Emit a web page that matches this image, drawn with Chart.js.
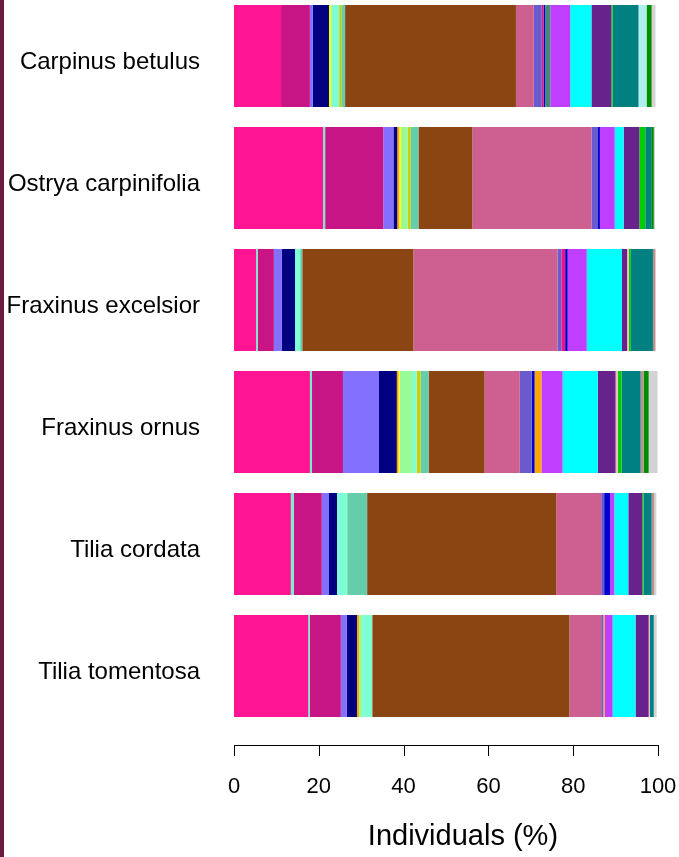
<!DOCTYPE html>
<html>
<head>
<meta charset="utf-8">
<script src="https://cdn.jsdelivr.net/npm/chart.js@4"></script>
<style>
body{margin:0;background:#fff;overflow:hidden;}
#wrap{position:relative;width:679px;height:857px;}
#stripe{position:absolute;left:0;top:0;width:4px;height:857px;background:#6b1a42;}
#box{position:absolute;left:0;top:-5px;width:679px;height:862px;}
</style>
</head>
<body>
<div id="wrap">
<div id="box"><canvas id="chart"></canvas></div>
<div id="stripe"></div>
</div>
<script>

const species = ["Carpinus betulus","Ostrya carpinifolia","Fraxinus excelsior","Fraxinus ornus","Tilia cordata","Tilia tomentosa"];

// one colour per taxon, stacked left to right in this order
const taxonColours = [
 "#FF1493","#76EEC6","#C71585","#8470FF","#000080","#FFA500","#FFFF00","#98FB98",
 "#7FFFD4","#CDCD00","#66CDAA","#8B4513","#CD6090","#6A5ACD","#EE1289","#0000CD",
 "#458B74","#FFA500","#BF3EFF","#00FFFF","#68228B","#FFB6C1","#00CD00","#008080",
 "#AFEEEE","#BC8F8F","#008B00","#D3D3D3"
];
const taxa = taxonColours.map((c,i) => "Taxon " + (i+1));

// share of individuals (%) per taxon
const carpinusBetulus    = [11.1,0,6.8,0.7,3.8,0,0.5,0,1.9,0.5,0.9,40.3,4.2,1.9,0.4,0.4,1.2,0,4.7,5.0,4.7,0,0.3,6.1,1.9,0,1.2,0.9];
const ostryaCarpinifolia = [21.0,0.5,13.7,2.4,0.9,0.5,0.4,1.6,0,0.6,1.9,12.7,28.1,1.4,0,0.6,0,0,3.5,2.1,3.7,0,1.4,1.4,0,0,0.6,0.3];
const fraxinusExcelsior  = [5.2,0.4,3.8,1.9,3.1,0,0,0,1.2,0,0.5,26.2,34.0,0.9,0.9,0.6,0,0,4.5,8.3,1.2,0.4,0.5,5.2,0,0.6,0,0];
const fraxinusOrnus      = [17.9,0.5,7.3,8.5,4.2,0.4,0.3,3.1,0.9,0.9,1.9,13.2,8.3,2.8,0,0.7,0,1.6,5.0,8.3,4.2,0.5,0.9,4.5,0,0.7,1.2,2.1];
const tiliaCordata       = [13.4,0.7,6.6,1.7,1.9,0,0,0,2.4,0,4.7,44.6,10.6,0.7,0,1.4,0,0,1.0,3.3,3.3,0,0.3,1.9,0,0.6,0,0.5];
const tiliaTomentosa     = [17.5,0.4,7.3,1.4,2.4,0.5,0,0.7,2.4,0,0,46.5,7.5,0.5,0,0,0,0.3,1.9,5.4,3.1,0.3,0,0.9,0,0,0,0.7];

const xTicks = [0,20,40,60,80,100];
const xTitle = "Individuals (%)";

const rows = [carpinusBetulus,ostryaCarpinifolia,fraxinusExcelsior,fraxinusOrnus,tiliaCordata,tiliaTomentosa];

const datasets = taxa.map((name,i) => ({
    label:name,
    data:rows.map(r => r[i]),
    backgroundColor:taxonColours[i],
    borderWidth:0,
    barPercentage:0.836,
    categoryPercentage:1
}));

// R style bottom axis: a line from 0 to 100 with ticks below, and the title
const rAxis = {
    id:"rAxis",
    afterDraw(chart){
        const ctx = chart.ctx;
        const x = chart.scales.x;
        const y0 = chart.chartArea.bottom + 18;
        ctx.save();
        ctx.strokeStyle = "#000";
        ctx.lineWidth = 1;
        ctx.beginPath();
        ctx.moveTo(x.getPixelForValue(xTicks[0]), y0 + 0.5);
        ctx.lineTo(x.getPixelForValue(xTicks[xTicks.length-1]), y0 + 0.5);
        xTicks.forEach(t => {
            const px = Math.round(x.getPixelForValue(t)) + 0.5;
            ctx.moveTo(px, y0);
            ctx.lineTo(px, y0 + 11);
        });
        ctx.stroke();
        ctx.fillStyle = "#000";
        ctx.font = "29px 'Liberation Sans', Arial, sans-serif";
        ctx.textAlign = "center";
        ctx.textBaseline = "middle";
        ctx.fillText(xTitle, x.getPixelForValue(54), chart.chartArea.bottom + 110);
        ctx.restore();
    }
};

new Chart(document.getElementById("chart"),{
    type:"bar",
    data:{labels:species, datasets:datasets},
    options:{
        indexAxis:"y",
        responsive:true,
        maintainAspectRatio:false,
        animation:false,
        layout:{padding:{left:0,right:21,top:0,bottom:0}},
        plugins:{legend:{display:false}, tooltip:{enabled:false}},
        scales:{
            x:{
                stacked:true,
                min:0,
                max:100,
                afterBuildTicks(scale){ scale.ticks = xTicks.map(v => ({value:v})); },
                afterFit(scale){
                    scale.height = 130;
                    scale.paddingLeft = 0;
                    scale.paddingRight = 0;
                },
                grid:{display:false},
                border:{display:false},
                ticks:{
                    padding:39,
                    color:"#000",
                    font:{family:"'Liberation Sans', Arial, sans-serif", size:22}
                }
            },
            y:{
                stacked:true,
                afterFit(scale){
                    scale.width = 234;
                    scale.paddingTop = 0;
                    scale.paddingBottom = 0;
                },
                grid:{display:false},
                border:{display:false},
                ticks:{
                    padding:26,
                    labelOffset:6,
                    color:"#000",
                    font:{family:"'Liberation Sans', Arial, sans-serif", size:24}
                }
            }
        }
    },
    plugins:[rAxis]
});
</script>
</body>
</html>
